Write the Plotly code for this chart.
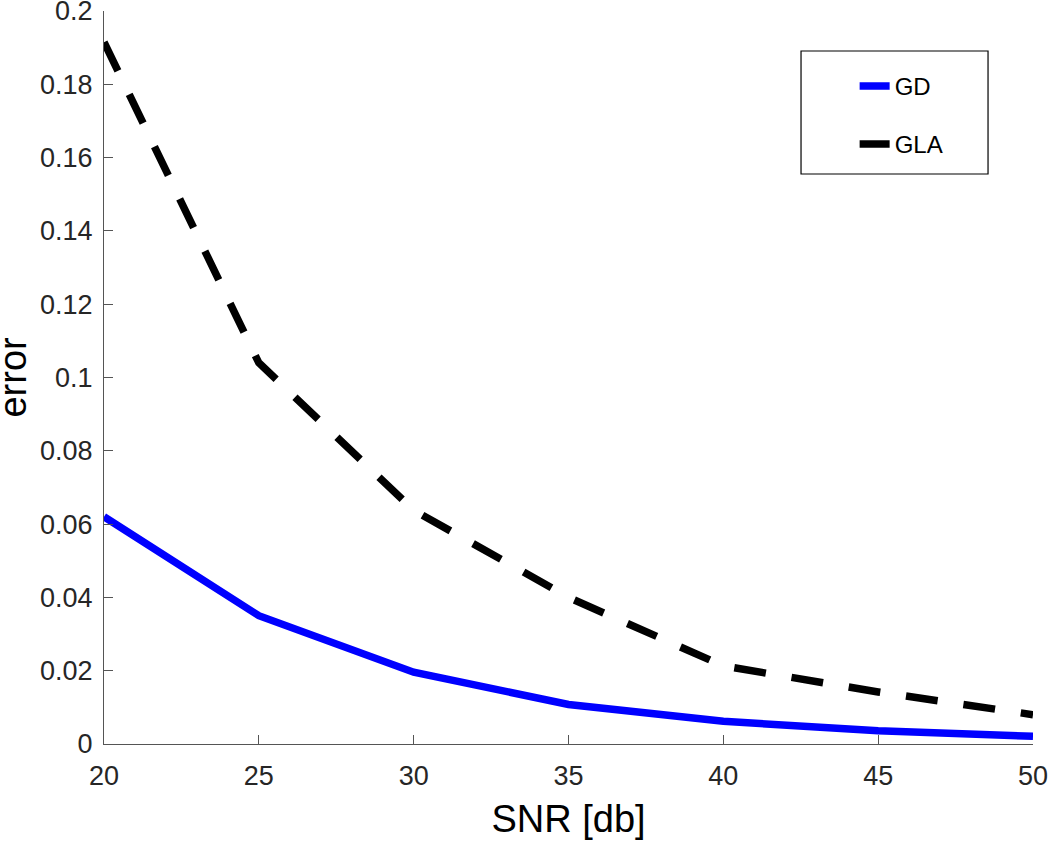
import plotly.graph_objects as go

snr = [20, 25, 30, 35, 40, 45, 50]
gd_err = [0.0620, 0.0350, 0.0196, 0.0108, 0.0062, 0.0036, 0.0021]
gla_err = [0.1915, 0.1040, 0.0638, 0.0400, 0.0213, 0.0142, 0.0080]
x_ticks = [20, 25, 30, 35, 40, 45, 50]
y_ticks = [0, 0.02, 0.04, 0.06, 0.08, 0.1, 0.12, 0.14, 0.16, 0.18, 0.2]
y_tick_text = ["0", "0.02", "0.04", "0.06", "0.08", "0.1", "0.12", "0.14", "0.16", "0.18", "0.2"]

FONT = "Liberation Sans, Arial, Helvetica, sans-serif"
TXT = "#262626"
AX = "#555555"

fig = go.Figure()
fig.add_trace(go.Scatter(x=snr, y=gd_err, mode="lines", name="GD", legendgroup="a",
                         line=dict(color="#0000ff", width=7.5), cliponaxis=False))
fig.add_trace(go.Scatter(x=snr, y=gla_err, mode="lines", name="GLA", legendgroup="b",
                         line=dict(color="#000000", width=7.5, dash="32px,26px"), cliponaxis=False))

fig.update_layout(
    width=1048, height=844,
    margin=dict(l=104, r=15, t=11, b=100, autoexpand=False),
    paper_bgcolor="white", plot_bgcolor="white",
    font=dict(family=FONT, color=TXT, size=27),
    showlegend=True,
    legend=dict(x=0.808, y=0.928, xanchor="left", yanchor="top",
                bgcolor="rgba(0,0,0,0)", borderwidth=0,
                font=dict(size=24, color="#000000", family=FONT),
                tracegroupgap=24, itemwidth=30),
    xaxis=dict(range=[20, 50], tickvals=x_ticks, ticks="inside", ticklen=9,
               tickcolor=AX, showline=True, linecolor=AX, linewidth=1.3,
               showgrid=False, zeroline=False, mirror=False, automargin=False,
               tickfont=dict(size=27, color=TXT), ticklabelstandoff=7,
               ticklabeloverflow="allow",
               title=dict(text="SNR [db]", font=dict(size=38, color="#000000"), standoff=15)),
    yaxis=dict(range=[0, 0.2], tickvals=y_ticks, ticktext=y_tick_text, ticks="inside", ticklen=9,
               tickcolor=AX, showline=True, linecolor=AX, linewidth=1.3,
               showgrid=False, zeroline=False, mirror=False, automargin=False,
               tickfont=dict(size=27, color=TXT), ticklabelstandoff=5,
               ticklabeloverflow="allow"),
    shapes=[dict(type="rect", xref="paper", yref="paper",
                 x0=0.7503, x1=0.9516, y0=0.7776, y1=0.9454,
                 line=dict(color="#000000", width=1.2), fillcolor="rgba(0,0,0,0)", layer="below")],
    annotations=[dict(text="error", xref="paper", yref="paper", x=-0.099, y=0.5,
                      xanchor="center", yanchor="middle", textangle=-90, showarrow=False,
                      font=dict(size=38, color="#000000", family=FONT))],
)

fig.write_html("out.html")
